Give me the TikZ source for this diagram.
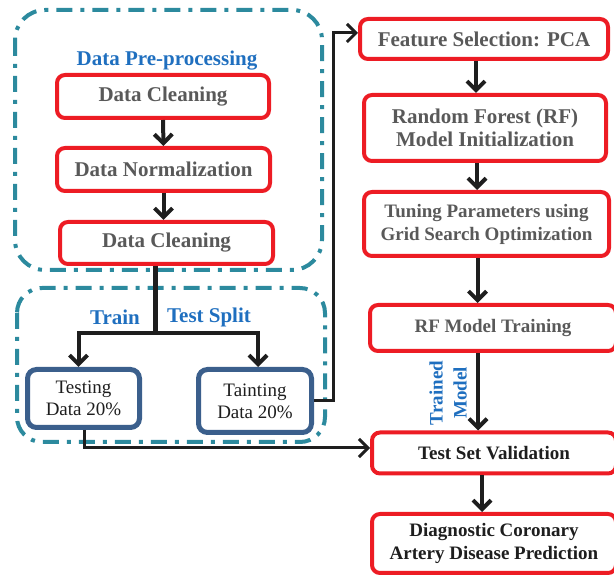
\documentclass[tikz,border=0pt]{standalone}
\usepackage{fontspec}
\setmainfont{Liberation Serif}
\usetikzlibrary{arrows.meta,calc}
\definecolor{boxred}{HTML}{ED1C24}
\definecolor{boxblue}{HTML}{3B5F8C}
\definecolor{dashteal}{HTML}{2C8A9E}
\definecolor{titleblue}{HTML}{1F6FBF}
\definecolor{txtgray}{HTML}{595959}
\definecolor{txtdark}{HTML}{1E1E1E}
\tikzset{
  redbox/.style={draw=boxred, line width=4pt, rounded corners=8pt, fill=white, align=center, inner sep=0pt,
    font=\bfseries\fontsize{21}{23}\selectfont, text=txtgray},
  redboxs/.style={redbox, font=\bfseries\fontsize{19}{23}\selectfont},
  bluebox/.style={draw=boxblue, line width=5pt, rounded corners=9pt, fill=white, align=center, inner sep=0pt,
    font=\fontsize{19}{22}\selectfont, text=txtdark},
  grp/.style={draw=dashteal, line width=4pt, dash pattern=on 16pt off 8pt on 4pt off 8pt},
  arr/.style={line width=4pt, -{Straight Barb[length=9pt,width=18pt]}, draw=txtdark},
  conn/.style={line width=3pt, -{Straight Barb[length=9pt,width=18pt]}, draw=txtdark},
  lbl/.style={text=titleblue, font=\bfseries\fontsize{21}{23}\selectfont, inner sep=0pt},
}
\begin{document}
\begin{tikzpicture}[x=1pt,y=-1pt]
\useasboundingbox (0,0) rectangle (614,577);
% group boxes
\draw[grp, rounded corners=30pt] (15,10) rectangle (322,270);
\draw[grp, rounded corners=25pt] (17,288) rectangle (325,442);
% labels
\node[lbl] (pre) at (167,61) {Data Pre-processing};
\node[lbl] (train) at (115,317) {Train};
\node[lbl] (split) at (209,317) {Test Split};
% left boxes
\node[redbox, minimum width=212pt, minimum height=43pt] (dc1) at (163,96.5) {Data Cleaning};
\node[redbox, minimum width=213pt, minimum height=43pt] (dn) at (163.5,169.5) {Data Normalization};
\node[redbox, minimum width=213pt, minimum height=42pt] (dc2) at (166.5,243) {Data Cleaning};
\node[bluebox, minimum width=112pt, minimum height=58pt] (test) at (83.5,398.5) {Testing\\Data 20\%};
\node[bluebox, minimum width=113pt, minimum height=63pt] (tain) at (255,401) {Tainting\\Data 20\%};
% right boxes
\node[redbox, minimum width=248pt, minimum height=40pt] (fs) at (484,39) {Feature Selection: PCA};
\node[redbox, minimum width=242pt, minimum height=66pt] (rfi) at (485,128) {Random Forest (RF)\\Model Initialization};
\node[redboxs, minimum width=245pt, minimum height=64pt] (tun) at (486.5,224) {Tuning Parameters using\\Grid Search Optimization};
\node[redboxs, minimum width=246pt, minimum height=46pt] (rft) at (493,328) {RF Model Training};
\node[redboxs, minimum width=244pt, minimum height=41pt, text=txtdark] (tsv) at (494,453) {Test Set Validation};
\node[redboxs, minimum width=244pt, minimum height=59pt, text=txtdark] (dcad) at (494,543.5) {Diagnostic Coronary\\Artery Disease Prediction};
\node[text=titleblue, font=\bfseries\fontsize{19}{24}\selectfont, align=center, rotate=90, inner sep=0pt] (tm) at (448,393) {Trained\\Model};
% connectors
\draw[arr] (dc1.south) -- (dn.north);
\draw[arr] (dn.south) -- (dn.south |- dc2.north);
\coordinate (sp) at (155,333);
\draw[line width=5pt, draw=txtdark] (dc2.south -| sp) -- (sp);
\draw[arr, line cap=rect] (sp) -| ([xshift=-5pt]test.north);
\draw[arr, line cap=rect] (sp) -| ([xshift=3pt]tain.north);
\draw[conn] (tain.east) -- ++(19,0) |- ([yshift=6pt]fs.west);
\draw[arr] ([xshift=-8pt]fs.south) -- ([xshift=-8pt]fs.south |- rfi.north);
\draw[arr] ([xshift=-8pt]rfi.south) -- ([xshift=-8pt]rfi.south |- tun.north);
\draw[arr] ([xshift=-9pt]tun.south) -- ([xshift=-9pt]tun.south |- rft.north);
\draw[arr] ([xshift=-15pt]rft.south) -- ([xshift=-15pt]rft.south |- tsv.north);
\draw[conn] ([xshift=1pt]test.south) |- ([yshift=5pt]tsv.west);
\draw[arr] ([xshift=-12pt]tsv.south) -- ([xshift=-12pt]tsv.south |- dcad.north);
\end{tikzpicture}
\end{document}
